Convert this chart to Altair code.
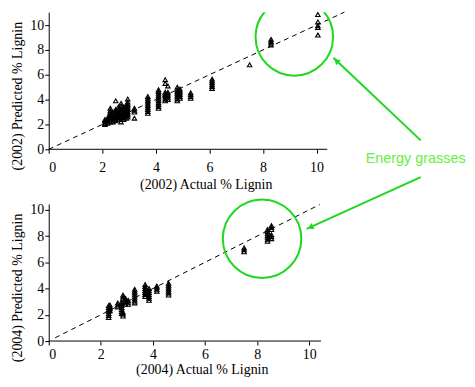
import altair as alt
import pandas as pd

# ---------------- data ----------------
actual_2002 = (
    [2.1] * 5 + [2.2] * 4 + [2.3] * 8 + [2.4] * 6 + [2.5] * 8 + [2.6] * 7 +
    [2.7] * 10 + [2.8] * 7 + [2.9] * 8 + [2.95] * 10 + [3.2] * 4 + [3.7] * 10 +
    [4.1] * 11 + [4.35] * 8 + [4.45] * 6 + [4.8] * 8 + [4.9] * 6 + [5.3] * 4 +
    [6.1] * 6 + [7.5] + [8.3] * 4 + [10.05] * 5
)
predicted_2002 = [
    2.0, 2.1, 2.2, 2.3, 2.4,
    2.1, 2.25, 2.4, 2.55,
    2.2, 2.35, 2.5, 2.65, 2.8, 2.95, 3.1, 3.3,
    2.2, 2.35, 2.5, 2.65, 2.8, 3.0,
    2.3, 2.45, 2.6, 2.75, 2.9, 3.05, 3.2, 3.9,
    2.4, 2.55, 2.7, 2.85, 3.0, 3.2, 3.4,
    2.2, 2.4, 2.55, 2.7, 2.85, 3.0, 3.15, 3.3, 3.5, 3.7,
    2.4, 2.55, 2.7, 2.85, 3.0, 3.2, 3.4,
    2.5, 2.65, 2.8, 2.95, 3.1, 3.25, 3.4, 3.6,
    2.6, 2.75, 2.9, 3.05, 3.2, 3.35, 3.5, 3.65, 3.8, 4.05,
    2.5, 3.0, 3.15, 3.3,
    2.9, 3.05, 3.2, 3.35, 3.5, 3.65, 3.8, 3.95, 4.1, 4.25,
    3.3, 3.45, 3.6, 3.75, 3.9, 4.05, 4.2, 4.35, 4.5, 4.65, 4.8,
    3.9, 4.05, 4.2, 4.35, 4.5, 4.6, 5.3, 5.6,
    4.0, 4.15, 4.3, 4.45, 4.6, 5.1,
    3.9, 4.05, 4.2, 4.35, 4.5, 4.65, 4.8, 5.0,
    4.1, 4.25, 4.4, 4.55, 4.7, 4.85,
    4.1, 4.25, 4.4, 4.55,
    4.9, 5.05, 5.2, 5.35, 5.5, 5.65,
    6.8,
    8.4, 8.55, 8.7, 8.85,
    9.2, 9.8, 9.95, 10.25, 10.85,
]

actual_2004 = (
    [2.3] * 7 + [2.35] * 4 + [2.65] * 3 + [2.8] * 7 + [2.85] * 6 + [2.95] * 4 +
    [3.05] * 3 + [3.3] * 8 + [3.7] * 7 + [3.85] * 7 + [4.15] * 4 + [4.6] * 7 +
    [7.5] * 3 + [8.4] * 7 + [8.55] * 6
)
predicted_2004 = [
    1.8, 1.95, 2.1, 2.25, 2.4, 2.55, 2.7,
    2.3, 2.45, 2.6, 2.75,
    2.6, 2.75, 2.9,
    2.1, 2.25, 2.4, 2.55, 2.7, 2.85, 3.0,
    1.9, 2.05, 2.2, 3.2, 3.35, 3.5,
    2.8, 2.95, 3.1, 3.25,
    2.8, 2.95, 3.1,
    2.9, 3.05, 3.2, 3.35, 3.5, 3.65, 3.8, 3.95,
    3.4, 3.55, 3.7, 3.85, 4.0, 4.15, 4.3,
    3.1, 3.25, 3.4, 3.55, 3.7, 3.85, 4.0,
    3.8, 3.95, 4.1, 4.2,
    3.5, 3.65, 3.8, 3.95, 4.1, 4.25, 4.4,
    6.8, 6.95, 7.1,
    7.6, 7.75, 7.9, 8.05, 8.2, 8.35, 8.5,
    7.8, 7.95, 8.1, 8.5, 8.65, 8.8,
]

tick_values = [0, 2, 4, 6, 8, 10]

# 1:1 reference lines
diag_2002 = [0.0, 11.04]
diag_2004 = [0.25, 10.4]

# annotation anchors (data coordinates of the 2002 / 2004 panels)
circle_2002 = {"x": [9.17], "y": [9.05]}
circle_2004 = {"x": [8.19], "y": [7.8]}
label_text = ["Energy grasses"]
label_pos = {"x": [13.7], "y": [-0.8]}
arrow_x = [13.89, 13.89]
arrow_y = [0.72, -2.24]
arrow_x2 = [10.63, 9.63]
arrow_y2 = [7.37, -6.41]
head_x = [10.74, 9.77]
head_y = [7.13, -6.28]
head_angle = [313, 246]

GREEN = "#1ed81e"
TEXT_GREEN = "#66f040"
SERIF = "Liberation Serif"


def make_panel(year, actual, predicted, diag, xmax, ymax, width, height,
               circle, title_x, lab_pad, tit_pad, with_annotations):
    xs = alt.Scale(domain=[0, xmax], nice=False, zero=False)
    ys = alt.Scale(domain=[0, ymax], nice=False, zero=False)
    xaxis = alt.Axis(values=tick_values, title=f"({year}) Actual % Lignin",
                     domain=False, titleX=title_x, labelPadding=lab_pad,
                     titlePadding=tit_pad)
    yaxis = alt.Axis(values=tick_values, title=f"({year}) Predicted % Lignin",
                     titleY=84)

    def X(f):
        return alt.X(f, type="quantitative", scale=xs, axis=xaxis)

    def Y(f):
        return alt.Y(f, type="quantitative", scale=ys, axis=yaxis)

    pts = pd.DataFrame({"a": actual, "p": predicted})
    points = alt.Chart(pts).mark_point(
        shape="triangle-up", filled=False, color="black", size=20,
        strokeWidth=1.1, opacity=1
    ).encode(x=X("a"), y=Y("p"))

    dline = alt.Chart(pd.DataFrame({"a": diag, "p": diag})).mark_line(
        color="black", strokeWidth=1, strokeDash=[5, 4]
    ).encode(x=X("a"), y=Y("p"))

    xrule = alt.Chart(pd.DataFrame({"x0": [0.0], "x1": [10.4 if year == "2002" else 10.45], "y0": [0.0]})).mark_rule(
        color="black", strokeWidth=1
    ).encode(x=X("x0"), x2="x1", y=Y("y0"))

    circ = alt.Chart(pd.DataFrame(circle)).mark_point(
        shape="circle", filled=False, stroke=GREEN, strokeWidth=2,
        size=6084 if year == "2002" else 6241, opacity=1,
        clip=(year == "2002")
    ).encode(x=X("x"), y=Y("y"))

    layers = [dline, xrule, points, circ]

    if with_annotations:
        arrows = alt.Chart(pd.DataFrame({
            "x": arrow_x, "y": arrow_y, "x2": arrow_x2, "y2": arrow_y2
        })).mark_rule(color=GREEN, strokeWidth=2).encode(
            x=X("x"), y=Y("y"), x2="x2", y2="y2")
        heads = alt.Chart(pd.DataFrame({
            "x": head_x, "y": head_y, "ang": head_angle
        })).mark_point(shape="triangle-up", filled=True, color=GREEN,
                       size=45, opacity=1).encode(
            x=X("x"), y=Y("y"), angle=alt.Angle("ang:Q", scale=None))
        txt = alt.Chart(pd.DataFrame({
            "x": label_pos["x"], "y": label_pos["y"], "t": label_text
        })).mark_text(font="Liberation Sans", fontSize=14.5, color=TEXT_GREEN,
                      align="center", baseline="middle").encode(
            x=X("x"), y=Y("y"), text="t:N")
        layers += [arrows, heads, txt]

    return alt.layer(*layers).properties(width=width, height=height)


top = make_panel("2002", actual_2002, predicted_2002, diag_2002,
                 11.5, 11.04, 310, 138, circle_2002, 158, 7, 3, True)
bottom = make_panel("2004", actual_2004, predicted_2004, diag_2004,
                    10.45, 10.45, 274, 138, circle_2004, 154, 3, 1, False)

chart = alt.vconcat(top, bottom, spacing=55, bounds="flush").properties(
    padding={"left": 2, "top": 0, "right": 0, "bottom": 0}
).configure_view(stroke="transparent").configure_axis(
    labelFont=SERIF, labelFontSize=14, labelColor="black",
    titleFont=SERIF, titleFontSize=14, titleFontWeight="normal",
    titleColor="black", domainColor="black", tickColor="black",
    tickSize=4, grid=False
).configure_axisY(labelPadding=1, titlePadding=5)

chart.save("out.html", embed_options={"renderer": "svg", "actions": False})
